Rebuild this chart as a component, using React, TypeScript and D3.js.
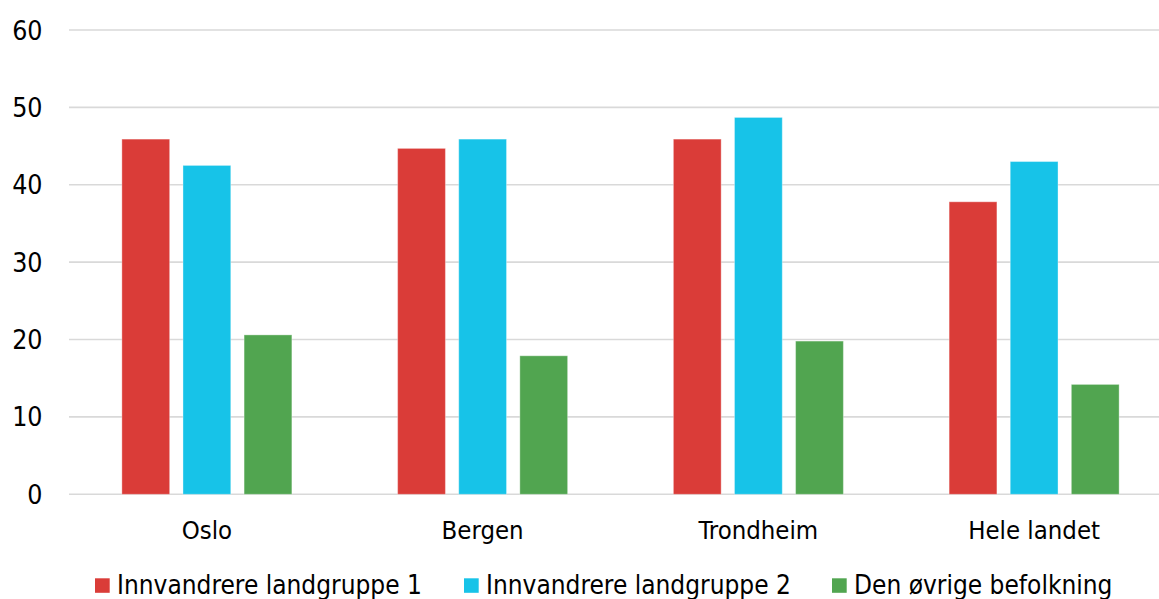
import React from "react";
import * as d3 from "d3";

const categories = ["Oslo", "Bergen", "Trondheim", "Hele landet"];
const seriesNames = ["Innvandrere landgruppe 1", "Innvandrere landgruppe 2", "Den øvrige befolkning"];
const group1 = [45.9, 44.7, 45.9, 37.8];
const group2 = [42.5, 45.9, 48.7, 43.0];
const others = [20.6, 17.9, 19.8, 14.2];
const yTicks = [0, 10, 20, 30, 40, 50, 60];
const colors = ["#DA3C38", "#17C3E8", "#51A550"];

const W = 1159;
const H = 599;
const FONT = "'DejaVu Sans Condensed', 'DejaVu Sans', sans-serif";

export default function App() {
  const series = [group1, group2, others];
  const x0 = d3.scaleBand<string>().domain(categories).range([69, 1172]).paddingInner(0).paddingOuter(0);
  const groupW = 170;
  const x1 = d3.scaleBand<number>().domain([0, 1, 2]).range([0, groupW]).paddingInner(0.218).paddingOuter(0);
  const y = d3.scaleLinear().domain([0, 60]).range([494.3, 30]);

  const legendX = [95, 464, 832];

  return (
    <svg width={W} height={H} style={{ position: "absolute", left: 0, top: 0, background: "#fff" }} fontFamily={FONT}>
      {yTicks.map((t) => (
        <g key={t}>
          <line x1={69} x2={W} y1={y(t)} y2={y(t)} stroke="#d9d9d9" strokeWidth={1.6} />
          <text x={42.5} y={y(t)} dy="0.36em" textAnchor="end" fontSize={26.5} fill="#000" style={{ fontStretch: "condensed" }}>
            {t}
          </text>
        </g>
      ))}
      {categories.map((c, ci) => {
        const gx = (x0(c) as number) + (x0.bandwidth() - groupW) / 2;
        return (
          <g key={c}>
            {series.map((s, si) => {
              const v = s[ci];
              return (
                <rect
                  key={si}
                  x={gx + (x1(si) as number)}
                  y={y(v)}
                  width={x1.bandwidth()}
                  height={y(0) - y(v)}
                  fill={colors[si]}
                  stroke="#ffffff"
                  strokeOpacity={0.35}
                  strokeWidth={1}
                />
              );
            })}
            <text
              x={(x0(c) as number) + x0.bandwidth() / 2}
              y={539}
              textAnchor="middle"
              fontSize={25.5}
              fill="#000"
              style={{ fontStretch: "condensed" }}
            >
              {c}
            </text>
          </g>
        );
      })}
      {seriesNames.map((n, i) => (
        <g key={n}>
          <rect x={legendX[i]} y={578.3} width={14.7} height={14.5} fill={colors[i]} />
          <text x={legendX[i] + 22} y={593.8} fontSize={26} fill="#000" style={{ fontStretch: "condensed" }}>
            {n}
          </text>
        </g>
      ))}
    </svg>
  );
}
